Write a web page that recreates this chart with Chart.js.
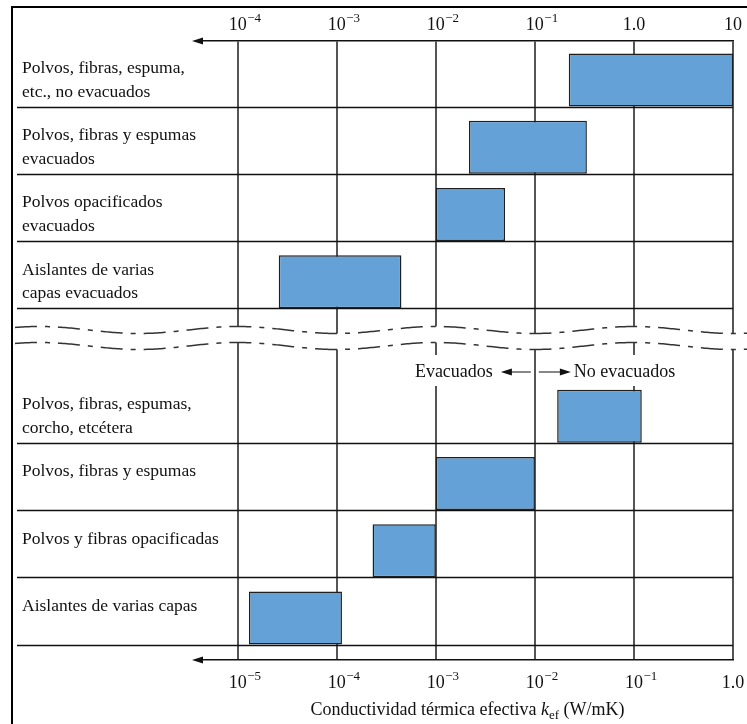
<!DOCTYPE html>
<html>
<head>
<meta charset="utf-8">
<script src="https://cdn.jsdelivr.net/npm/chart.js@4.4.1/dist/chart.umd.min.js"></script>
<style>
  html, body { margin: 0; padding: 0; background: #fff; }
  #wrap { position: relative; width: 747px; height: 724px; }
</style>
</head>
<body>
<div id="wrap"><canvas id="chart" width="747" height="724"></canvas></div>
<script>
// filas (la fila 4 es el corte entre las dos secciones)
const rowLabels = [
  ['Polvos, fibras, espuma,', 'etc., no evacuados'],
  ['Polvos, fibras y espumas', 'evacuados'],
  ['Polvos opacificados', 'evacuados'],
  ['Aislantes de varias', 'capas evacuados'],
  [],
  ['Polvos, fibras, espumas,', 'corcho, etcétera'],
  ['Polvos, fibras y espumas'],
  ['Polvos y fibras opacificadas'],
  ['Aislantes de varias capas']
];

// seccion superior (eje de arriba)
const upperRows = [0, 1, 2, 3];
const upperLow = [0.22, 0.0216, 0.01, 0.00026];
const upperHigh = [10, 0.335, 0.05, 0.0045];

// seccion inferior (eje de abajo)
const lowerRows = [5, 6, 7, 8];
const lowerLow = [0.0168, 0.001, 0.00023, 0.000013];
const lowerHigh = [0.12, 0.01, 0.001, 0.000113];

const topTicks = [1e-4, 1e-3, 1e-2, 1e-1, 1, 10];
const topTickText = [['10', '−4'], ['10', '−3'], ['10', '−2'], ['10', '−1'], ['1.0', ''], ['10', '']];
const bottomTicks = [1e-5, 1e-4, 1e-3, 1e-2, 1e-1, 1];
const bottomTickText = [['10', '−5'], ['10', '−4'], ['10', '−3'], ['10', '−2'], ['10', '−1'], ['1.0', '']];
const evacBoundary = 1e-2;

const serif = "'Liberation Serif', 'Times New Roman', serif";
const barPct = 0.79;
const barFill = '#64a1d6';
const barEdge = '#1f1f1f';

function arrowHead(ctx, tipX, tipY, dir) {
  ctx.beginPath();
  ctx.moveTo(tipX, tipY);
  ctx.lineTo(tipX - dir * 11, tipY - 3.5);
  ctx.lineTo(tipX - dir * 11, tipY + 3.5);
  ctx.closePath();
  ctx.fill();
}

const decor = {
  id: 'decor',
  beforeDatasetsDraw(chart) {
    const ctx = chart.ctx;
    const a = chart.chartArea;
    const x = chart.scales.x, x2 = chart.scales.x2, y = chart.scales.y;
    const half = (y.getPixelForValue(1) - y.getPixelForValue(0)) * barPct / 2;
    ctx.save();

    // lineas de separacion de filas
    ctx.strokeStyle = '#111';
    ctx.lineWidth = 1.5;
    upperRows.concat(lowerRows).forEach(function(r) {
      const py = Math.round(y.getPixelForValue(r) + half) + 0.5;
      ctx.beginPath();
      ctx.moveTo(17, py);
      ctx.lineTo(a.right, py);
      ctx.stroke();
    });

    // corte ondulado
    const x0 = x.getPixelForValue(1e-4);
    const period = x.getPixelForValue(1e-2) - x0;
    const yb = y.getPixelForValue(4) - 11;
    const wave = px => yb - 3.5 * Math.cos(2 * Math.PI * (px - x0) / period);
    ctx.fillStyle = '#fff';
    ctx.beginPath();
    for (let px = 15; px <= 747; px += 2) ctx.lineTo(px, wave(px) - 8);
    for (let px = 747; px >= 15; px -= 2) ctx.lineTo(px, wave(px) + 8);
    ctx.closePath();
    ctx.fill();
    ctx.strokeStyle = '#333';
    ctx.lineWidth = 1.5;
    ctx.setLineDash([22, 8, 5, 8]);
    [-8, 8].forEach(function(off) {
      ctx.beginPath();
      for (let px = 15; px <= 747; px += 2) ctx.lineTo(px, wave(px) + off);
      ctx.stroke();
    });
    ctx.setLineDash([]);

    // Evacuados <- -> No evacuados
    const bx = x2.getPixelForValue(evacBoundary);
    const ty = y.getPixelForValue(4) + 23;
    ctx.font = '18px ' + serif;
    ctx.textBaseline = 'middle';
    const w1 = ctx.measureText('Evacuados').width;
    const w2 = ctx.measureText('No evacuados').width;
    ctx.fillStyle = '#fff';
    ctx.fillRect(bx - 42 - w1 - 3, ty - 17, w1 + 6, 31);
    ctx.fillRect(bx + 39 - 3, ty - 17, w2 + 6, 31);
    ctx.fillStyle = '#111';
    ctx.textAlign = 'right';
    ctx.fillText('Evacuados', bx - 42, ty);
    ctx.textAlign = 'left';
    ctx.fillText('No evacuados', bx + 39, ty);
    ctx.strokeStyle = '#111';
    ctx.lineWidth = 1.2;
    ctx.beginPath();
    ctx.moveTo(bx - 4, ty); ctx.lineTo(bx - 30, ty);
    ctx.moveTo(bx + 4, ty); ctx.lineTo(bx + 30, ty);
    ctx.stroke();
    arrowHead(ctx, bx - 34, ty, -1);
    arrowHead(ctx, bx + 36, ty, 1);
    ctx.restore();
  },
  afterDraw(chart) {
    const ctx = chart.ctx;
    const a = chart.chartArea;
    const x = chart.scales.x, x2 = chart.scales.x2, y = chart.scales.y;
    ctx.save();

    // marco
    ctx.strokeStyle = '#000';
    ctx.lineWidth = 2;
    ctx.beginPath();
    ctx.moveTo(12, 724); ctx.lineTo(12, 7); ctx.lineTo(747, 7);
    ctx.stroke();

    // flechas de los ejes
    ctx.fillStyle = '#111';
    arrowHead(ctx, a.left - 4, a.top, -1);
    arrowHead(ctx, a.left - 4, a.bottom, -1);

    // nombres de las filas
    ctx.font = '17.5px ' + serif;
    ctx.textAlign = 'left';
    ctx.textBaseline = 'alphabetic';
    y.ticks.forEach(function(t) {
      const cy = y.getPixelForValue(t.value);
      (rowLabels[t.value] || []).forEach(function(line, k) {
        ctx.fillText(line, 22, cy - 7 + 23.5 * k);
      });
    });

    // etiquetas con exponente
    function drawTicks(scale, texts, baseY) {
      scale.ticks.forEach(function(t, i) {
        const px = scale.getPixelForValue(t.value);
        const b = texts[i][0], s = texts[i][1];
        ctx.font = '18px ' + serif;
        ctx.textAlign = 'left';
        ctx.textBaseline = 'alphabetic';
        const bw = ctx.measureText(b).width;
        ctx.fillText(b, px - bw / 2, baseY);
        if (s) {
          ctx.font = '13px ' + serif;
          ctx.fillText(s, px + bw / 2 + 0.5, baseY - 8);
        }
      });
    }
    drawTicks(x, topTickText, 30);
    drawTicks(x2, bottomTickText, 688);

    // titulo del eje
    const parts = [
      ['Conductividad térmica efectiva ', '18px ' + serif, 0],
      ['k', 'italic 18px ' + serif, 0],
      ['ef', '13px ' + serif, 4],
      [' (W/mK)', '18px ' + serif, 0]
    ];
    let total = 0;
    parts.forEach(function(p) { ctx.font = p[1]; total += ctx.measureText(p[0]).width; });
    let cx = (a.left + a.right) / 2 + 3 - total / 2;
    parts.forEach(function(p) {
      ctx.font = p[1];
      ctx.fillText(p[0], cx, 715 + p[2]);
      cx += ctx.measureText(p[0]).width;
    });
    ctx.restore();
  }
};

new Chart(document.getElementById('chart'), {
  type: 'bar',
  data: {
    datasets: [
      {
        label: 'Sección superior',
        xAxisID: 'x',
        yAxisID: 'y',
        backgroundColor: barFill,
        borderColor: barEdge,
        data: upperRows.map((r, i) => ({ y: r, x: [upperLow[i], upperHigh[i]] }))
      },
      {
        label: 'Sección inferior',
        xAxisID: 'x2',
        yAxisID: 'y',
        backgroundColor: barFill,
        borderColor: barEdge,
        data: lowerRows.map((r, i) => ({ y: r, x: [lowerLow[i], lowerHigh[i]] }))
      }
    ]
  },
  options: {
    indexAxis: 'y',
    responsive: false,
    animation: false,
    layout: { padding: { left: 22, right: 14, top: 0, bottom: 0 } },
    plugins: { legend: { display: false }, tooltip: { enabled: false } },
    datasets: {
      bar: {
        grouped: false,
        barPercentage: barPct,
        categoryPercentage: 1,
        borderWidth: 1.5,
        borderSkipped: false
      }
    },
    scales: {
      x: {
        type: 'logarithmic',
        position: 'top',
        min: 3.8e-5,
        max: 10,
        afterBuildTicks: s => { s.ticks = topTicks.map(v => ({ value: v })); },
        afterFit: s => { s.height = 41; },
        ticks: { display: false },
        grid: { color: '#555', lineWidth: 2, drawTicks: false },
        border: { color: '#111', width: 1.5 }
      },
      x2: {
        type: 'logarithmic',
        position: 'bottom',
        min: 3.8e-6,
        max: 1,
        afterBuildTicks: s => { s.ticks = bottomTicks.map(v => ({ value: v })); },
        afterFit: s => { s.height = 64; },
        ticks: { display: false },
        grid: { display: false },
        border: { color: '#111', width: 1.5 }
      },
      y: {
        type: 'linear',
        reverse: true,
        offset: false,
        min: -0.58,
        max: 8.625,
        afterBuildTicks: s => { s.ticks = rowLabels.map((l, i) => ({ value: i })); },
        afterFit: s => { s.width = 174; },
        ticks: { display: false },
        grid: { display: false },
        border: { display: false }
      }
    }
  },
  plugins: [decor]
});
</script>
</body>
</html>
